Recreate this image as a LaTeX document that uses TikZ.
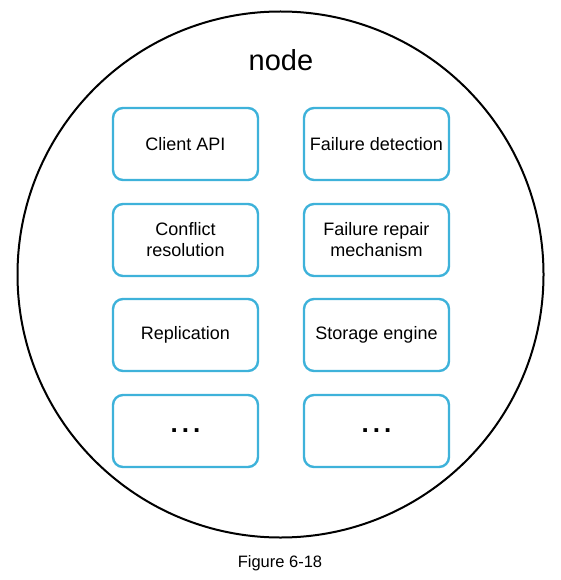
\documentclass[tikz,border=0pt]{standalone}
\usepackage{fontspec}
\setmainfont{Liberation Sans}
\definecolor{boxblue}{RGB}{62,178,218}
\begin{document}
\begin{tikzpicture}[
        x=1pt, y=-1pt,
        part/.style={
            draw=boxblue,
            line width=2.4pt,
            rounded corners=10pt,
            align=center,
            minimum height=72pt,
            minimum width=145pt,
            font=\fontsize{18}{21}\selectfont
        },
        more/.style={
            part,
            font=\fontsize{26}{26}\selectfont\bfseries
        }
    ]

        \useasboundingbox (0,0) rectangle (560,580);

        \node[draw, circle, line width=2pt, minimum size=526pt] (shell) at (280.5,274.5) {};

        \node[font=\fontsize{29}{29}\selectfont] (title) at (281,60) {node};

        \node[part] (client) at (185.5,144) {Client API};
        \node[part] (detect) at (376.5,144) {Failure detection};

        \node[part] (conflict) at (185.5,240) {Conflict\\resolution};
        \node[part] (repair) at (376.5,240) {Failure repair\\mechanism};

        \node[part] (replica) at (185.5,335) {Replication};
        \node[part] (storage) at (376.5,335) {Storage engine};

        \node[more] (moreleft) at (185.5,431) {.\hspace{4pt}.\hspace{4pt}.};
        \node[more] (moreright) at (376.5,431) {.\hspace{4pt}.\hspace{4pt}.};

        \node[font=\fontsize{16.5}{16.5}\selectfont] (caption) at (280,563) {Figure 6-18};

    \end{tikzpicture}
\end{document}
